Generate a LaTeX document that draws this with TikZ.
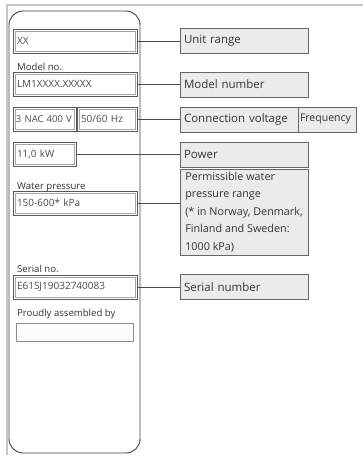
\documentclass[tikz,border=0pt]{standalone}
\usepackage{fontspec}
\setmainfont{Open Sans}
\begin{document}
\begin{tikzpicture}[x=1pt,y=-1pt,
  platebox/.style={draw=black!75, line width=0.9pt, rounded corners=14pt, fill=white, inner sep=0pt},
  fieldbox/.style={draw=black!65, line width=0.7pt, fill=white, inner xsep=4pt, inner ysep=0pt,
    minimum height=24pt, align=left, text=black!70, font=\fontsize{10}{11}\selectfont,
    path picture={\draw[black!35, line width=0.6pt]
      ([shift={(1.8pt,-1.8pt)}]path picture bounding box.north west) rectangle
      ([shift={(-1.8pt,1.8pt)}]path picture bounding box.south east);}},
  blankbox/.style={draw=black!45, fill=black!1, line width=0.7pt, minimum width=117pt, minimum height=18pt, inner sep=0pt},
  caption/.style={anchor=west, inner sep=0pt, text=black!80, font=\fontsize{9.6}{11}\selectfont},
  labelbox/.style={draw=black!60, fill=black!8, line width=0.7pt, inner xsep=4pt, inner ysep=0pt,
    minimum height=25pt, align=left, text=black!80, font=\fontsize{11.5}{14}\selectfont},
  conn/.style={draw=black!70, line width=0.8pt}
]
\useasboundingbox (0,0) rectangle (363,455);
\fill[white] (0,0) rectangle (363,455);
% outer gray frame
\draw[black!22, line width=2pt] (7,455) -- (7,5) -- (363,5);
% label plate
\node[platebox, minimum width=131pt, minimum height=442pt] (plate) at (74.5,232) {};
% fields
\node[fieldbox, text width=116pt] (xx) at (75,41) {XX};
\node[caption] (cmodel) at (17,67) {Model no.};
\node[fieldbox, text width=116pt] (lm) at (75,84) {LM1XXXX.XXXXX};
\node[fieldbox, text width=57pt, inner xsep=3pt, font=\fontsize{9.5}{11}\selectfont] (nac) at (44.5,119) {\mbox{3 NAC 400 V}};
\node[fieldbox, text width=52pt] (hz) at (107,119) {50/60 Hz};
\node[fieldbox, text width=55pt] (kw) at (44.5,154) {11,0 kW};
\node[caption] (cwater) at (17,187) {Water pressure};
\node[fieldbox, text width=116pt] (wp) at (75,203) {150-600* kPa};
\node[caption] (cserial) at (17,269) {Serial no.};
\node[fieldbox, text width=116pt] (sn) at (75,287) {E61SJ19032740083};
\node[caption] (cproud) at (17,314) {Proudly assembled by};
\node[blankbox] (blank) at (74.5,332) {};
% labels
\node[labelbox, text width=120pt] (ur) at (244,40.5) {Unit range};
\node[labelbox, text width=120pt] (mn) at (244,84.5) {Model number};
\node[labelbox, text width=110pt] (cv) at (239,119.5) {Connection voltage};
\node[labelbox, text width=54pt, inner xsep=2pt, font=\fontsize{10.5}{12}\selectfont] (fr) at (327,119.5) {Frequency};
\node[labelbox, text width=120pt] (pw) at (244,154.5) {Power};
\node[labelbox, minimum width=128pt, minimum height=86pt, font=\fontsize{10.8}{17.6}\selectfont] (pr) at (244,212)
  {Permissible water\\pressure range\\(* in Norway, Denmark,\\Finland and Sweden:\\1000 kPa)};
\node[labelbox, text width=120pt] (snl) at (244,287) {Serial number};
% connectors
\draw[conn] (xx.east) -- (xx.east -| ur.west);
\draw[conn] (lm.east) -- (lm.east -| mn.west);
\draw[conn] (hz.east) -- (hz.east -| cv.west);
\draw[conn] (kw.east) -- (kw.east -| pw.west);
\draw[conn] (wp.east) -- (wp.east -| pr.west);
\draw[conn] (sn.east) -- (sn.east -| snl.west);
\end{tikzpicture}
\end{document}
